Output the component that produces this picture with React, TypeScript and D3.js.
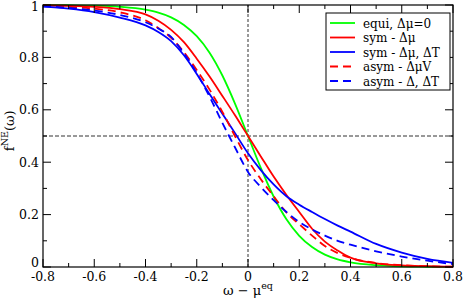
import React from 'react';
import * as d3 from 'd3';

// energy grid (omega - mu_eq)
const omega = [-0.8, -0.7, -0.6, -0.5, -0.4, -0.35, -0.3, -0.25, -0.2, -0.15, -0.1, -0.05, 0,
  0.05, 0.1, 0.15, 0.2, 0.25, 0.3, 0.35, 0.4, 0.5, 0.6, 0.7, 0.8];

const equi = [0.9997, 0.999, 0.9975, 0.993, 0.982, 0.971, 0.953, 0.924, 0.881, 0.818, 0.731, 0.622, 0.5,
  0.378, 0.269, 0.182, 0.119, 0.076, 0.047, 0.029, 0.018, 0.007, 0.0025, 0.001, 0.0003];
const symMu = [0.999, 0.997, 0.993, 0.984, 0.964, 0.94, 0.905, 0.858, 0.795, 0.727, 0.653, 0.578, 0.5,
  0.422, 0.345, 0.275, 0.21, 0.146, 0.097, 0.063, 0.036, 0.014, 0.006, 0.003, 0.001];
const symMuT = [0.994, 0.986, 0.973, 0.952, 0.922, 0.897, 0.862, 0.808, 0.737, 0.66, 0.585, 0.51, 0.434,
  0.37, 0.315, 0.27, 0.238, 0.21, 0.183, 0.158, 0.135, 0.088, 0.055, 0.031, 0.016];
const asymMuV = [0.997, 0.993, 0.986, 0.972, 0.942, 0.912, 0.875, 0.82, 0.752, 0.677, 0.592, 0.498, 0.408,
  0.335, 0.27, 0.208, 0.163, 0.12, 0.08, 0.053, 0.035, 0.015, 0.007, 0.003, 0.001];
const asymT = [0.995, 0.989, 0.979, 0.962, 0.934, 0.91, 0.878, 0.815, 0.74, 0.65, 0.55, 0.455, 0.363,
  0.305, 0.255, 0.21, 0.172, 0.143, 0.12, 0.1, 0.085, 0.06, 0.04, 0.024, 0.011];

const seriesNames = ['equi, \u0394\u03bc=0', 'sym - \u0394\u03bc', 'sym - \u0394\u03bc, \u0394T', 'asym - \u0394\u03bcV', 'asym - \u0394, \u0394T'];
const seriesValues = [equi, symMu, symMuT, asymMuV, asymT];
const seriesColors = ['#00ff00', '#ff0000', '#0000ff', '#ff0000', '#0000ff'];
const seriesDash = [null, null, null, '8,5', '8,5'];

const xTicks = [-0.8, -0.6, -0.4, -0.2, 0, 0.2, 0.4, 0.6, 0.8];
const yTicks = [0, 0.2, 0.4, 0.6, 0.8, 1];

const W = 463, H = 300;
const m = { left: 43, right: 10, top: 5, bottom: 33 };
const font = 'DejaVu Serif';

export default function App() {
  const x = d3.scaleLinear().domain([-0.8, 0.8]).range([m.left, W - m.right]);
  const y = d3.scaleLinear().domain([0, 1]).range([H - m.bottom, m.top]);
  const line = d3.line<number>()
    .x((_, i) => x(omega[i]))
    .y(d => y(d))
    .curve(d3.curveMonotoneX);

  const xMinor = d3.range(-8, 9).map(v => v / 10);
  const yMinor = d3.range(0, 11).map(v => v / 10);
  const x0 = m.left, x1 = W - m.right, y0 = H - m.bottom, y1 = m.top;

  const lx = 330, ly = 23, lstep = 14.5;

  return (
    <svg width={W} height={H} style={{ position: 'absolute', left: 0, top: 0 }} fontFamily={font}>
      <rect width={W} height={H} fill="white" />
      {/* reference lines */}
      <line x1={x0} x2={x1} y1={y(0.5)} y2={y(0.5)} stroke="#333" strokeDasharray="4,2" />
      <line x1={x(0)} x2={x(0)} y1={y0} y2={y1} stroke="#333" strokeDasharray="3,2" />

      {seriesValues.map((vals, i) => (
        <path key={i} d={line(vals) || ''} fill="none" stroke={seriesColors[i]} strokeWidth={1.8}
          strokeDasharray={seriesDash[i] || undefined} />
      ))}

      {/* frame + ticks */}
      <rect x={x0} y={y1} width={x1 - x0} height={y0 - y1} fill="none" stroke="black" strokeWidth={1.2} />
      {xMinor.map((v, i) => {
        const len = i % 2 === 0 ? 8 : 4;
        return (
          <g key={'xt' + i} stroke="black">
            <line x1={x(v)} x2={x(v)} y1={y0} y2={y0 - len} />
            <line x1={x(v)} x2={x(v)} y1={y1} y2={y1 + len} />
          </g>
        );
      })}
      {yMinor.map((v, i) => {
        const len = i % 2 === 0 ? 8 : 4;
        return (
          <g key={'yt' + i} stroke="black">
            <line x1={x0} x2={x0 + len} y1={y(v)} y2={y(v)} />
            <line x1={x1} x2={x1 - len} y1={y(v)} y2={y(v)} />
          </g>
        );
      })}
      {xTicks.map(v => (
        <text key={'xl' + v} x={x(v)} y={y0 + 14} fontSize={12.5} textAnchor="middle">{String(v)}</text>
      ))}
      {yTicks.map(v => (
        <text key={'yl' + v} x={x0 - 4} y={y(v) + (v === 1 ? 6 : v === 0 ? 0 : 4.5)} fontSize={12.5} textAnchor="end">{String(v)}</text>
      ))}

      {/* axis titles */}
      <text x={x(0)} y={295} fontSize={13} textAnchor="middle">
        {'\u03c9 \u2212 \u03bc'}<tspan fontSize={9.5} dy={-6}>eq</tspan>
      </text>
      <text transform={`translate(14, ${y(0.52)}) rotate(-90)`} fontSize={13} textAnchor="middle">
        f<tspan fontSize={9.5} dy={-6}>NE</tspan><tspan dy={6}>({'\u03c9'})</tspan>
      </text>

      {/* legend */}
      <rect x={326} y={13} width={124} height={77} fill="white" stroke="black" />
      {seriesNames.map((name, i) => (
        <g key={'lg' + i}>
          <line x1={lx} x2={lx + 25} y1={ly + i * lstep} y2={ly + i * lstep} stroke={seriesColors[i]}
            strokeWidth={1.8} strokeDasharray={seriesDash[i] || undefined} />
          <text x={363} y={ly + i * lstep + 4.5} fontSize={12}>{name}</text>
        </g>
      ))}
    </svg>
  );
}
